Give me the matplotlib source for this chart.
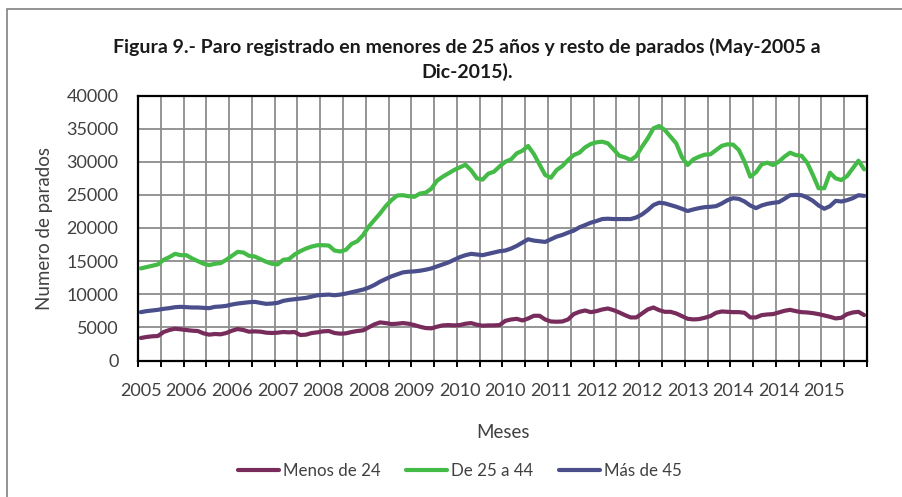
import numpy as np
import matplotlib
matplotlib.use("Agg")
import matplotlib.pyplot as plt
from matplotlib.patches import Rectangle

# ---------------- data (May-2005 .. Dec-2015, monthly) ----------------
menos_24 = [
    3400, 3550, 3650, 3700, 4300, 4600, 4800, 4700, 4600, 4500, 4450, 4100, 3900, 4000, 3950, 4150,
    4500, 4750, 4600, 4350, 4400, 4350, 4200, 4150, 4200, 4300, 4250, 4300, 3850, 3900, 4150, 4250,
    4400, 4450, 4150, 4050, 4100, 4300, 4450, 4550, 5000, 5450, 5750, 5650, 5500, 5550, 5650, 5550,
    5350, 5100, 4900, 4850, 5100, 5300, 5350, 5300, 5350, 5550, 5650, 5400, 5250, 5300, 5300, 5350,
    5990, 6190, 6290, 6040, 6340, 6750, 6750, 6190, 5890, 5850, 5890, 6190, 7000, 7350, 7550, 7300,
    7450, 7700, 7850, 7600, 7250, 6850, 6500, 6500, 7100, 7700, 8000, 7600, 7350, 7350, 7100,
    6700, 6300, 6200, 6250, 6450, 6700, 7200, 7400, 7350, 7300, 7300, 7200, 6500, 6500, 6850, 6950,
    7000, 7250, 7500, 7650, 7450, 7300, 7250, 7150, 7000, 6800, 6600, 6350, 6450, 7000, 7250, 7350, 6850,
]
de_25_44 = [
    13900, 14100, 14300, 14500, 15200, 15600, 16100, 15900, 15900, 15400, 15000, 14600, 14400, 14600, 14700, 15200,
    15800, 16400, 16300, 15800, 15700, 15300, 14900, 14600, 14500, 15200, 15300, 16000, 16500, 16900, 17200, 17400,
    17400, 17350, 16600, 16450, 16700, 17600, 18000, 18900, 20200, 21200, 22200, 23300, 24200, 24900, 24950, 24800,
    24700, 25200, 25330, 25930, 27140, 27740, 28250, 28750, 29150, 29550, 28700, 27500, 27300, 28200, 28500, 29300,
    30000, 30360, 31270, 31670, 32380, 31170, 29600, 28000, 27590, 28750, 29350, 30260, 31000, 31370, 32170, 32680,
    32930, 33030, 32780, 31870, 30910, 30660, 30260, 30860, 32270, 33530, 35040, 35400, 34790, 33790, 32780,
    30700, 29500, 30360, 30760, 31070, 31120, 31770, 32400, 32630, 32580, 31770, 30000, 27740, 28400, 29600, 29860,
    29500, 30000, 30760, 31370, 31000, 30900, 29860, 28000, 26000, 26000, 28350, 27490, 27240, 27840, 29000, 30160, 28850,
]
mas_45 = [
    7300, 7450, 7550, 7650, 7800, 7900, 8050, 8100, 8050, 8000, 8000, 7950, 7900, 8100, 8150, 8250,
    8450, 8600, 8700, 8800, 8850, 8700, 8550, 8600, 8700, 9000, 9150, 9250, 9350, 9450, 9650, 9850,
    9900, 9950, 9850, 9950, 10100, 10300, 10500, 10700, 11000, 11400, 11900, 12300, 12700, 13000, 13300, 13400,
    13450, 13550, 13700, 13900, 14200, 14500, 14800, 15200, 15600, 15900, 16100, 16000, 15900, 16100, 16300, 16500,
    16600, 16900, 17300, 17800, 18300, 18100, 18000, 17900, 18300, 18700, 18950, 19300, 19600, 20100, 20440, 20800,
    21050, 21350, 21400, 21350, 21350, 21350, 21350, 21600, 22050, 22700, 23460, 23820, 23720, 23460, 23210,
    22900, 22560, 22800, 23000, 23150, 23200, 23300, 23700, 24200, 24500, 24400, 24000, 23400, 23000, 23400, 23650,
    23800, 23900, 24400, 24950, 25000, 24950, 24600, 24100, 23400, 22900, 23300, 24100, 24000, 24200, 24500, 24950, 24850,
]

series_names = ["Menos de 24", "De 25 a 44", "Más de 45"]
series_colors = ["#772C5B", "#44BA47", "#4A4F8C"]

tick_label_pos = [0, 8, 16, 24, 32, 40, 48, 56, 64, 72, 80, 88, 96, 104, 112, 120]
tick_labels = ["2005", "2006", "2006", "2007", "2008", "2008", "2009", "2010",
               "2010", "2011", "2012", "2012", "2013", "2014", "2014", "2015"]
y_ticks = [0, 5000, 10000, 15000, 20000, 25000, 30000, 35000, 40000]

title_l1 = "Figura 9.- Paro registrado en menores de 25 años y resto de parados (May-2005 a"
title_l2 = "Dic-2015)."
x_title = "Meses"
y_title = "Numero de parados"

# ---------------- figure ----------------
FONT = ["Lato", "DejaVu Sans"]
plt.rcParams["font.family"] = FONT
W, H = 903, 497
fig = plt.figure(figsize=(W / 100, H / 100), dpi=100)
fig.patch.set_facecolor("white")

# outer chart-area frame
fig.patches.append(Rectangle((7 / W, -0.2), 1.5, 1 - 9 / H + 0.2, transform=fig.transFigure,
                             fill=False, ec="#808080", lw=1.2))

ax = fig.add_axes([138 / W, 1 - 360.5 / H, 729 / W, 265 / H])
n = len(menos_24)
xs = np.arange(n)
lines = []
for vals, c, name in zip([menos_24, de_25_44, mas_45], series_colors, series_names):
    ln, = ax.plot(xs, vals, color=c, lw=3.0, solid_joinstyle="round", solid_capstyle="round",
                  label=name, zorder=3)
    lines.append(ln)

ax.set_xlim(-0.5, n - 0.5)
ax.set_ylim(0, 40000)
ax.set_yticks(y_ticks)
ax.set_yticklabels([str(v) for v in y_ticks])
ax.set_xticks(np.arange(-0.5, n, 4))
ax.set_xticklabels([])
ax.set_xticks(tick_label_pos, minor=True)
ax.set_xticklabels(tick_labels, minor=True)

ax.grid(True, which="major", color="#8c8c8c", lw=1.3, zorder=1)
ax.set_axisbelow(True)
for s in ax.spines.values():
    s.set_color("black")
    s.set_linewidth(1.6)

ax.tick_params(axis="y", length=0, pad=14, labelsize=13, labelcolor="#404040")
ax.tick_params(axis="x", which="major", direction="out", length=4, width=1.4, color="black")
ax.tick_params(axis="x", which="minor", length=0, pad=16, labelsize=13, labelcolor="#404040")

# titles
fig.text(467 / W, 1 - 47 / H, title_l1, ha="center", va="center", fontsize=14, fontweight="bold",
         color="#1a1a1a")
fig.text(467 / W, 1 - 72 / H, title_l2, ha="center", va="center", fontsize=14, fontweight="bold",
         color="#1a1a1a")
fig.text(45 / W, 1 - 228 / H, y_title, rotation=90, ha="center", va="center", fontsize=13.5,
         color="#404040")
fig.text(503 / W, 1 - 432 / H, x_title, ha="center", va="center", fontsize=13.5, color="#404040")

leg = fig.legend(handles=lines, labels=series_names, loc="center", bbox_to_anchor=(460 / W, 1 - 471 / H),
                 ncol=3, frameon=False, fontsize=12.2, handlelength=2.4, handletextpad=0.25,
                 columnspacing=1.5, labelcolor="#404040")

fig.savefig("out.png", dpi=100, facecolor="white")
